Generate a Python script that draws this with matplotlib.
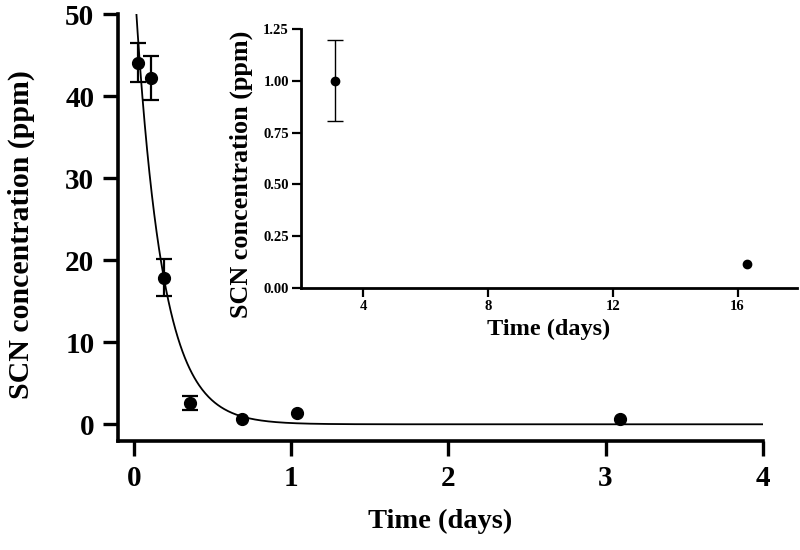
import numpy as np
import matplotlib
matplotlib.use("Agg")
import matplotlib.pyplot as plt

plt.rcParams['font.family'] = ['Liberation Serif', 'DejaVu Serif']
plt.rcParams['font.weight'] = 'bold'
plt.rcParams['axes.labelweight'] = 'bold'

# Main panel data
time_main = [0.025, 0.11, 0.19, 0.36, 0.69, 1.04, 3.09]
conc_main = [44.1, 42.2, 17.9, 2.6, 0.7, 1.4, 0.6]
err_main = [2.4, 2.7, 2.3, 0.9, 0.0, 0.0, 0.0]

# Exponential fit parameters (C = A * exp(-k t))
fit_A = 55.3
fit_k = 5.9

# Inset data
time_inset = [3.1, 16.3]
conc_inset = [1.00, 0.115]
err_inset = [0.195, 0.0]

main_xticks = [0, 1, 2, 3, 4]
main_yticks = [0, 10, 20, 30, 40, 50]
inset_xticks = [4, 8, 12, 16]
inset_yticks = [0.00, 0.25, 0.50, 0.75, 1.00, 1.25]


def split_err(xs, ys, es):
    wx = [x for x, e in zip(xs, es) if e > 0]
    wy = [y for y, e in zip(ys, es) if e > 0]
    we = [e for e in es if e > 0]
    nx = [x for x, e in zip(xs, es) if e <= 0]
    ny = [y for y, e in zip(ys, es) if e <= 0]
    return wx, wy, we, nx, ny


fig = plt.figure(figsize=(8, 5.5), dpi=100)
ax = fig.add_axes([0.1475, 0.198, 0.806, 0.776])

t_fit = np.linspace(0, 4, 800)
ax.plot(t_fit, fit_A * np.exp(-fit_k * t_fit), color='black', lw=1.3, zorder=2)
wx, wy, we, nx, ny = split_err(time_main, conc_main, err_main)
ax.errorbar(wx, wy, yerr=we, fmt='o', color='black',
            ms=8.5, elinewidth=1.6, capsize=5.5, capthick=1.6, zorder=3)
ax.plot(nx, ny, 'o', color='black', ms=8.5, zorder=3)

ax.set_xlim(-0.1, 4)
ax.set_ylim(-2.05, 50)
ax.set_xticks(main_xticks)
ax.set_yticks(main_yticks)
ax.set_xticklabels([str(v) for v in main_xticks])
ax.set_yticklabels([str(v) for v in main_yticks])
for s in ['top', 'right']:
    ax.spines[s].set_visible(False)
for s in ['left', 'bottom']:
    ax.spines[s].set_linewidth(2.6)
ax.tick_params(axis='both', length=11, width=2.4, labelsize=21, pad=6)
ax.set_xlabel('Time (days)', fontsize=20.5, labelpad=12)
ax.set_ylabel('SCN concentration (ppm)', fontsize=21.5)
ax.yaxis.set_label_coords(-0.128, 0.484)

# Inset
ins = fig.add_axes([0.376, 0.4764, 0.62, 0.4709])
wx, wy, we, nx, ny = split_err(time_inset, conc_inset, err_inset)
ins.errorbar(wx, wy, yerr=we, fmt='o', color='black',
             ms=6, elinewidth=1.0, capsize=6, capthick=1.0, zorder=3)
ins.plot(nx, ny, 'o', color='black', ms=6, zorder=3)
ins.set_xlim(2, 17.9)
ins.set_ylim(0, 1.25)
ins.set_xticks(inset_xticks)
ins.set_yticks(inset_yticks)
ins.set_xticklabels([str(v) for v in inset_xticks])
ins.set_yticklabels(['%.2f' % v for v in inset_yticks])
for s in ['top', 'right']:
    ins.spines[s].set_visible(False)
for s in ['left', 'bottom']:
    ins.spines[s].set_linewidth(2.0)
ins.tick_params(axis='both', length=6.5, width=1.6, labelsize=10.5, pad=2)
ins.set_xlabel('Time (days)', fontsize=17.5, labelpad=4)
ins.set_ylabel('SCN concentration (ppm)', fontsize=18.8)
ins.yaxis.set_label_coords(-0.097, 0.44)
ins.patch.set_alpha(0)

fig.savefig('out.png', dpi=100)
